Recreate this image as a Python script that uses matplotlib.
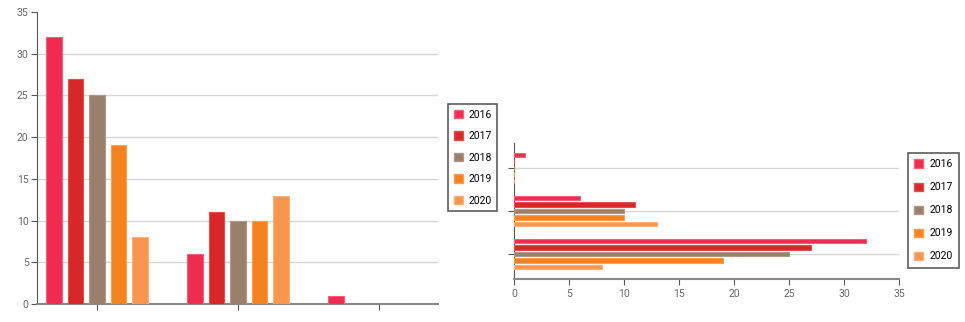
import numpy as np
import matplotlib
matplotlib.use("Agg")
import matplotlib.pyplot as plt
from matplotlib.patches import Patch

plt.rcParams['font.family'] = ['Roboto', 'DejaVu Sans']

# data
groups = ['A', 'B', 'C']
years = ['2016', '2017', '2018', '2019', '2020']
values = {
    '2016': [32, 6, 1],
    '2017': [27, 11, 0],
    '2018': [25, 10, 0],
    '2019': [19, 10, 0],
    '2020': [8, 13, 0],
}
colors = ['#EE2C50', '#D62828', '#9A806C', '#F58220', '#F7964E']
edges = ['#F4607C', '#E05050', '#B09888', '#F8A050', '#F9B07A']

fig = plt.figure(figsize=(9.65, 3.22), dpi=100)

tick_col = '#666666'
grid_col = '#D6D6D6'

# ---- left: vertical bars
ax1 = fig.add_axes([37/965, 18/322, 401/965, 292/322])
x = np.arange(len(groups))
step = 0.153
width = 0.11
for i, yr in enumerate(years):
    ax1.bar(x + (i - 2) * step, values[yr], width, color=colors[i],
            edgecolor=edges[i], linewidth=0.8, zorder=3)
ax1.set_xlim(-0.4255, 2.418)
ax1.set_ylim(0, 35)
ax1.set_yticks(range(0, 36, 5))
for v in range(5, 35, 5):
    ax1.axhline(v, color=grid_col, linewidth=1, zorder=1)
ax1.set_xticks(x)
ax1.set_xticklabels([])
ax1.spines['top'].set_visible(False)
ax1.spines['right'].set_visible(False)
ax1.spines['left'].set_color('#555555')
ax1.spines['bottom'].set_color('#888888')
ax1.spines['bottom'].set_linewidth(1.5)
ax1.tick_params(axis='y', length=4, color='#555555', labelcolor=tick_col, labelsize=7.5, pad=2)
ax1.tick_params(axis='x', length=4, color='#555555')

handles = [Patch(facecolor=colors[i], edgecolor=edges[i], label=yr) for i, yr in enumerate(years)]
leg1 = fig.legend(handles=handles, loc='upper left', bbox_to_anchor=(448/965, 1 - 104/322),
                  frameon=True, fancybox=False, edgecolor='#333333', fontsize=7.5,
                  handlelength=0.85, handleheight=0.85, handletextpad=0.55, labelspacing=1.1,
                  borderpad=0.55, borderaxespad=0)
leg1.get_frame().set_linewidth(1.2)

# ---- right: horizontal bars
ax2 = fig.add_axes([514/965, 43/322, 385/965, 136/322])
y = np.arange(len(groups))
hstep = 0.151
hh = 0.105
for i, yr in enumerate(years):
    ax2.barh(y + (2 - i) * hstep, values[yr], hh, color=colors[i],
             edgecolor=edges[i], linewidth=0.8, zorder=3)
ax2.set_ylim(-0.581, 2.581)
ax2.set_xlim(0, 35)
ax2.set_xticks(range(0, 36, 5))
ax2.set_yticks(y)
ax2.set_yticklabels([])
for v in y:
    ax2.axhline(v, color=grid_col, linewidth=1, zorder=1)
ax2.spines['top'].set_visible(False)
ax2.spines['right'].set_visible(False)
ax2.spines['left'].set_color('#555555')
ax2.spines['bottom'].set_color('#888888')
ax2.spines['bottom'].set_linewidth(1.5)
ax2.tick_params(axis='x', length=4, color='#555555', labelcolor=tick_col, labelsize=7.5, pad=3)
ax2.tick_params(axis='y', length=4, color='#555555')

leg2 = fig.legend(handles=handles, loc='upper left', bbox_to_anchor=(908/965, 1 - 153/322),
                  frameon=True, fancybox=False, edgecolor='#333333', fontsize=7.5,
                  handlelength=0.85, handleheight=0.85, handletextpad=0.6, labelspacing=1.25,
                  borderpad=0.6, borderaxespad=0)
leg2.get_frame().set_linewidth(1.2)

fig.savefig('out.png', dpi=100)
